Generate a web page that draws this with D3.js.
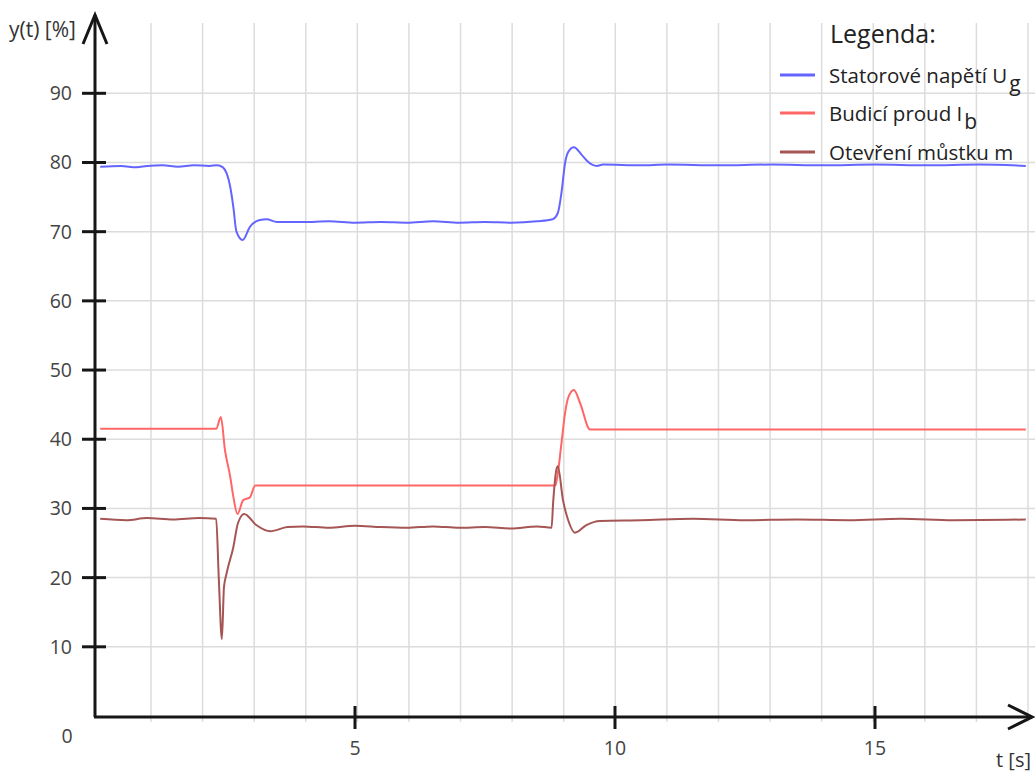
<!DOCTYPE html>
<html>
<head>
<meta charset="utf-8">
<script src="https://cdn.jsdelivr.net/npm/d3@7"></script>
<style>
  body { margin: 0; background: #fff; }
  svg text { font-family: "Open Sans", sans-serif; }
</style>
</head>
<body>
<div id="chart"></div>
<script>
// Data
const blueT = [0.1, 0.5, 0.8, 1.0, 1.3, 1.6, 1.9, 2.2, 2.35, 2.46, 2.6, 2.66, 2.72, 2.84, 2.98, 3.17, 3.3, 3.5, 4.0, 4.5, 5.0, 5.5, 6.0, 6.5, 7.0, 7.5, 8.0, 8.5, 8.8, 8.9, 8.97, 9.04, 9.1, 9.21, 9.36, 9.48, 9.65, 9.77, 10.5, 11, 12, 13, 14, 15, 16, 17, 17.9];
const blueV = [79.4, 79.5, 79.3, 79.5, 79.6, 79.4, 79.6, 79.5, 79.6, 79.3, 76.5, 73.6, 70.0, 68.8, 70.7, 71.7, 71.8, 71.4, 71.4, 71.5, 71.3, 71.4, 71.3, 71.5, 71.3, 71.4, 71.3, 71.5, 71.8, 72.7, 75.6, 79.9, 81.5, 82.2, 81.1, 80.1, 79.5, 79.7, 79.6, 79.7, 79.6, 79.7, 79.6, 79.7, 79.6, 79.7, 79.5];

const redT = [0.1, 2.33, 2.42, 2.5, 2.6, 2.66, 2.74, 2.85, 2.98, 3.08, 8.85, 8.88, 8.97, 9.04, 9.1, 9.21, 9.33, 9.52, 17.9];
const redV = [41.5, 41.5, 43.2, 38.4, 34.6, 31.7, 29.2, 31.2, 31.6, 33.3, 33.3, 34.1, 39.4, 43.8, 46.0, 47.1, 45.2, 41.4, 41.4];

const brownT = [0.1, 0.6, 1.0, 1.5, 2.0, 2.33, 2.38, 2.44, 2.48, 2.53, 2.66, 2.75, 2.87, 3.1, 3.37, 3.7, 4.0, 4.5, 5.0, 5.5, 6.0, 6.5, 7.0, 7.5, 8.0, 8.5, 8.78, 8.81, 8.87, 8.9, 9.0, 9.1, 9.23, 9.45, 9.71, 10.5, 11.5, 12.5, 13.5, 14.5, 15.5, 16.5, 17.9];
const brownV = [28.5, 28.3, 28.6, 28.4, 28.6, 28.5, 20.0, 11.1, 18.6, 20.6, 24.4, 27.9, 29.2, 27.6, 26.7, 27.3, 27.4, 27.2, 27.5, 27.3, 27.2, 27.4, 27.2, 27.3, 27.1, 27.4, 27.2, 30.8, 35.5, 36.1, 31.2, 28.3, 26.5, 27.6, 28.2, 28.3, 28.5, 28.3, 28.4, 28.3, 28.5, 28.3, 28.4];

const series = [
  { name: "Statorové napětí U", sub: "g", color: "#6464ff", t: blueT, v: blueV },
  { name: "Budicí proud I", sub: "b", color: "#ff6666", t: redT, v: redV },
  { name: "Otevření můstku m", sub: "", color: "#a65555", t: brownT, v: brownV }
];

const xGrid = d3.range(1, 19);
const yGrid = [10, 20, 30, 40, 50, 60, 70, 80, 90];
const xTicks = [5, 10, 15];

const svgWidth = 1035;
const svgHeight = 774;

const svg = d3.select("#chart").append("svg")
  .attr("width", svgWidth)
  .attr("height", svgHeight);

const xScale = d3.scaleLinear().domain([0, 18]).range([95, 1031]);
const yScale = d3.scaleLinear().domain([0, 90]).range([716, 93.3]);
// the background grid of the original is drawn a touch off the tick positions
const gridScale = d3.scaleLinear().domain([1, 18]).range([151, 1028]);

// Grid
svg.append("g").selectAll("line")
  .data(xGrid)
  .enter().append("line")
  .attr("x1", d => gridScale(d)).attr("x2", d => gridScale(d))
  .attr("y1", 23).attr("y2", 722)
  .attr("stroke", "#dcdcdc").attr("stroke-width", 1.5);

svg.append("g").selectAll("line")
  .data(yGrid)
  .enter().append("line")
  .attr("x1", 106).attr("x2", svgWidth)
  .attr("y1", d => yScale(d)).attr("y2", d => yScale(d))
  .attr("stroke", "#dcdcdc").attr("stroke-width", 1.5);

// Series
const line = d3.line()
  .x(d => xScale(d[0]))
  .y(d => yScale(d[1]))
  .curve(d3.curveMonotoneX);

series.forEach(s => {
  svg.append("path")
    .datum(s.t.map((t, i) => [t, s.v[i]]))
    .attr("d", line)
    .attr("fill", "none")
    .attr("stroke", s.color)
    .attr("stroke-width", 2);
});

// Axes
const axisColor = "#161616";
svg.append("line")
  .attr("x1", 95).attr("x2", 95).attr("y1", 717).attr("y2", 15)
  .attr("stroke", axisColor).attr("stroke-width", 3);
svg.append("path")
  .attr("d", "M83,44 L95,15 L107,44")
  .attr("fill", "none").attr("stroke", axisColor).attr("stroke-width", 3);

svg.append("line")
  .attr("x1", 94).attr("x2", 1032).attr("y1", 717).attr("y2", 717)
  .attr("stroke", axisColor).attr("stroke-width", 3);
svg.append("path")
  .attr("d", "M1008,705 L1032,717 L1008,729")
  .attr("fill", "none").attr("stroke", axisColor).attr("stroke-width", 3);

// Y ticks
const yt = svg.append("g").selectAll("g")
  .data(yGrid)
  .enter().append("g");
yt.append("line")
  .attr("x1", 82).attr("x2", 106)
  .attr("y1", d => yScale(d)).attr("y2", d => yScale(d))
  .attr("stroke", axisColor).attr("stroke-width", 3);
yt.append("text")
  .attr("x", 72).attr("y", d => yScale(d) + 7)
  .attr("text-anchor", "end")
  .attr("font-size", 19.5).attr("fill", "#444")
  .text(d => d);

// X ticks
const xt = svg.append("g").selectAll("g")
  .data(xTicks)
  .enter().append("g");
xt.append("line")
  .attr("x1", d => xScale(d)).attr("x2", d => xScale(d))
  .attr("y1", 706).attr("y2", 729)
  .attr("stroke", axisColor).attr("stroke-width", 3);
xt.append("text")
  .attr("x", d => xScale(d)).attr("y", 755)
  .attr("text-anchor", "middle")
  .attr("font-size", 19.5).attr("fill", "#444")
  .text(d => d);

svg.append("text")
  .attr("x", 67).attr("y", 743)
  .attr("text-anchor", "middle")
  .attr("font-size", 19.5).attr("fill", "#444")
  .text("0");

// Axis titles
svg.append("text")
  .attr("x", 9).attr("y", 37)
  .attr("font-size", 21).attr("fill", "#333")
  .text("y(t) [%]");
svg.append("text")
  .attr("x", 1031).attr("y", 767)
  .attr("text-anchor", "end")
  .attr("font-size", 20).attr("fill", "#333")
  .text("t [s]");

// Legend
svg.append("text")
  .attr("x", 830).attr("y", 43)
  .attr("font-size", 25).attr("fill", "#222")
  .text("Legenda:");

const legendY = [75, 113, 152];
series.forEach((s, i) => {
  const y = legendY[i];
  svg.append("line")
    .attr("x1", 780).attr("x2", 815).attr("y1", y).attr("y2", y)
    .attr("stroke", s.color).attr("stroke-width", 3);
  const t = svg.append("text")
    .attr("x", 829).attr("y", y + 8)
    .attr("font-size", 20.5).attr("fill", "#222")
    .text(s.name);
  if (s.sub) {
    t.append("tspan")
      .attr("dx", 2)
      .attr("dy", 8)
      .attr("font-size", 21)
      .text(s.sub);
  }
});
</script>
</body>
</html>
